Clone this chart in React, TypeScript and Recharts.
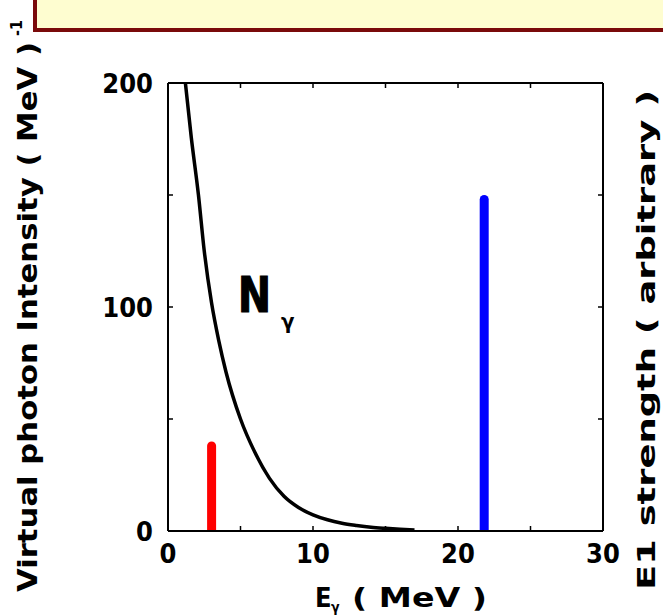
import React from "react";
import {
  ComposedChart,
  Line,
  Bar,
  Cell,
  XAxis,
  YAxis,
} from "recharts";

// virtual photon spectrum N_gamma
const energy = [1.2, 1.6, 2.1, 2.5, 3, 3.5, 4, 5, 6, 7, 8, 9, 10, 11, 12, 13, 14, 15, 16, 17];
const photonIntensity = [200, 176, 150, 125, 102, 85, 71, 50, 35, 23.5, 15.5, 10.5, 7.2, 5, 3.5, 2.5, 1.7, 1.2, 0.8, 0.5];

// E1 strength lines
const peakEnergy = [3, 21.8];
const peakStrength = [40, 150];
const peakColor = ["#ff0000", "#0000ff"];

const xTicks = [0, 5, 10, 15, 20, 25, 30];
const yTicks = [0, 50, 100, 150, 200];

const FONT = "'DejaVu Sans Condensed', 'DejaVu Sans', sans-serif";

type Row = { e: number; n?: number; s?: number; color?: string };

const rows: Row[] = [];
energy.forEach((e, i) => rows.push({ e, n: photonIntensity[i] }));
peakEnergy.forEach((e, i) => {
  const hit = rows.find((r) => r.e === e);
  if (hit) {
    hit.s = peakStrength[i];
    hit.color = peakColor[i];
  } else rows.push({ e, s: peakStrength[i], color: peakColor[i] });
});
rows.sort((a, b) => a.e - b.e);

const TICK = 5;
const BAR_W = 9;

function BottomTick(props: any) {
  const { x, y, payload } = props;
  const v = payload.value;
  return (
    <g>
      <line x1={x} y1={y} x2={x} y2={y - TICK} stroke="#000" strokeWidth={1.5} />
      {v % 10 === 0 && (
        <text x={x} y={y + 32} textAnchor="middle" fontFamily={FONT} fontWeight="bold" fontSize={27} fill="#000">
          {v}
        </text>
      )}
    </g>
  );
}

function TopTick(props: any) {
  const { x, y } = props;
  return <line x1={x} y1={y} x2={x} y2={y + TICK} stroke="#000" strokeWidth={1.5} />;
}

function LeftTick(props: any) {
  const { x, y, payload } = props;
  const v = payload.value;
  return (
    <g>
      <line x1={x} y1={y} x2={x + TICK} y2={y} stroke="#000" strokeWidth={1.5} />
      {v % 100 === 0 && (
        <text x={x - 15} y={y + 10} textAnchor="end" fontFamily={FONT} fontWeight="bold" fontSize={27} fill="#000">
          {v}
        </text>
      )}
    </g>
  );
}

function RightTick(props: any) {
  const { x, y } = props;
  return <line x1={x} y1={y} x2={x - TICK} y2={y} stroke="#000" strokeWidth={1.5} />;
}

// fixed-width line centred on the library's bar position
function PeakBar(props: any) {
  const { x, y, width, height, fill } = props;
  if (!height || height <= 0) return null;
  const cx = x + width / 2;
  const r = BAR_W / 2;
  return (
    <path
      d={`M${cx - r},${y + height} L${cx - r},${y + r} A${r},${r} 0 0 1 ${cx + r},${y + r} L${cx + r},${y + height} Z`}
      fill={fill}
    />
  );
}

export default function App() {
  return (
    <div style={{ position: "absolute", left: 0, top: 0, width: 663, height: 616, background: "#fff", overflow: "hidden" }}>
      <ComposedChart
        width={663}
        height={616}
        data={rows}
        margin={{ top: 63, right: 40, bottom: 55, left: 98 }}
      >
        <XAxis
          dataKey="e"
          type="number"
          domain={[0, 30]}
          ticks={xTicks}
          allowDataOverflow
          height={30}
          tickSize={0}
          tickMargin={0}
          tick={<BottomTick />}
          axisLine={{ stroke: "#000", strokeWidth: 2 }}
          tickLine={false}
        />
        <XAxis
          xAxisId="top"
          orientation="top"
          dataKey="e"
          type="number"
          domain={[0, 30]}
          ticks={xTicks}
          allowDataOverflow
          height={20}
          tickSize={0}
          tickMargin={0}
          tick={<TopTick />}
          axisLine={{ stroke: "#000", strokeWidth: 2 }}
          tickLine={false}
        />
        <YAxis
          type="number"
          domain={[0, 200]}
          ticks={yTicks}
          allowDataOverflow
          width={70}
          tickSize={0}
          tickMargin={0}
          tick={<LeftTick />}
          axisLine={{ stroke: "#000", strokeWidth: 2 }}
          tickLine={false}
        />
        <YAxis
          yAxisId="right"
          orientation="right"
          type="number"
          domain={[0, 200]}
          ticks={yTicks}
          allowDataOverflow
          width={20}
          tickSize={0}
          tickMargin={0}
          tick={<RightTick />}
          axisLine={{ stroke: "#000", strokeWidth: 2 }}
          tickLine={false}
        />
        <Bar dataKey="s" barSize={4} shape={<PeakBar />} isAnimationActive={false}>
          {rows.map((r, i) => (
            <Cell key={i} fill={r.color || "#000"} />
          ))}
        </Bar>
        <Line
          dataKey="n"
          type="monotone"
          stroke="#000"
          strokeWidth={3.5}
          dot={false}
          connectNulls
          isAnimationActive={false}
        />
      </ComposedChart>
      <svg width={663} height={616} style={{ position: "absolute", left: 0, top: 0, pointerEvents: "none" }}>
        <rect x={35} y={-10} width={700} height={40} fill="#fefdd0" stroke="#7a0a0a" strokeWidth={4} />
        <g fontFamily={FONT} fontWeight="bold" fill="#000">
          <text transform="translate(37,592) rotate(-90)" fontSize={27} textLength={550} lengthAdjust="spacingAndGlyphs">
            Virtual photon Intensity ( MeV )
          </text>
          <text transform="translate(22,36) rotate(-90)" fontSize={16}>
            -1
          </text>
          <text transform="translate(655,590) rotate(-90)" fontSize={25} textLength={500} lengthAdjust="spacingAndGlyphs">
            E1 strength ( arbitrary )
          </text>
          <text x={315} y={607} fontSize={27}>
            E
          </text>
          <text x={331} y={612} fontSize={14}>
            γ
          </text>
          <text x={352} y={607} fontSize={27} textLength={135} lengthAdjust="spacingAndGlyphs">
            ( MeV )
          </text>
          <text x={238} y={312} fontSize={50} textLength={33} lengthAdjust="spacingAndGlyphs" stroke="#000" strokeWidth={1.2}>
            N
          </text>
          <text x={281} y={329} fontSize={22}>
            γ
          </text>
        </g>
      </svg>
    </div>
  );
}
